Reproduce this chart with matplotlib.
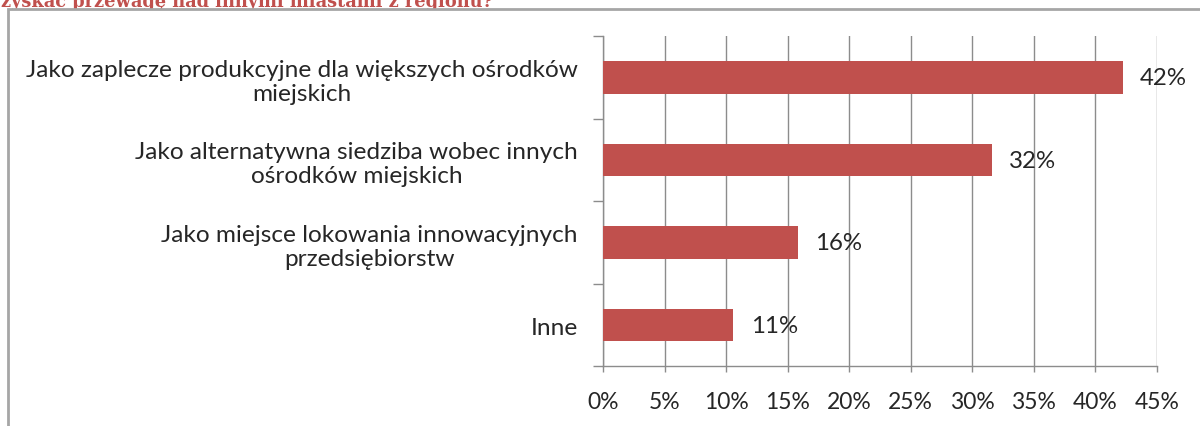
import matplotlib
matplotlib.use("Agg")
import matplotlib.pyplot as plt
from matplotlib.patches import Rectangle
from matplotlib.ticker import PercentFormatter, MultipleLocator

# Survey answers (bottom to top as drawn)
categories = [
    "Inne",
    "Jako miejsce lokowania innowacyjnych\nprzedsiębiorstw",
    "Jako alternatywna siedziba wobec innych\nośrodków miejskich",
    "Jako zaplecze produkcyjne dla większych ośrodków\nmiejskich",
]
shares = [0.106, 0.158, 0.316, 0.422]
title_tail = "zyskać przewagę nad innymi miastami z regionu?"

BAR = "#c0504d"
GRID = "#8c8c8c"
TEXT = "#262626"

plt.rcParams["font.family"] = ["Lato", "DejaVu Sans"]

fig = plt.figure(figsize=(12, 4.27), dpi=100)
W, H = 1200, 427

# question text running above the chart frame
fig.text(1 / W, 1 - 7 / H, title_tail, color=BAR, fontsize=12.8, fontweight="bold",
         family=["DejaVu Serif"], ha="left", va="baseline", zorder=-2)

# chart frame (white box partly covering the question's descenders)
fig.patches.append(Rectangle((8 / W, -0.2), 1.5, 0.2 + 1 - 10 / H, transform=fig.transFigure,
                             facecolor="white", edgecolor="#a6a6a6", linewidth=2, zorder=-1))

ax = fig.add_axes([603 / W, (H - 367.3) / H, (1157 - 603) / W, (367.3 - 37.3) / H])
ax.set_facecolor("none")
y = range(len(categories))
bars = ax.barh(y, shares, height=0.39, color=BAR, zorder=3)

for b, v in zip(bars, shares):
    ax.annotate(f"{v:.0%}", (v, b.get_y() + b.get_height() / 2), xytext=(12.5, 0),
                textcoords="offset points", ha="left", va="center", fontsize=17.3, color=TEXT)

ax.set_xlim(0, 0.45)
ax.set_ylim(-0.5, len(categories) - 0.5)
ax.xaxis.set_major_locator(MultipleLocator(0.05))
ax.xaxis.set_major_formatter(PercentFormatter(1.0, decimals=0))
ax.set_yticks([i - 0.5 for i in range(len(categories) + 1)], minor=False)
ax.set_yticklabels([])
ax.set_yticks(list(y), minor=True)
ax.set_yticklabels(categories, minor=True, fontsize=17.6, color=TEXT,
                   multialignment="center", linespacing=1.2)
ax.tick_params(axis="y", which="minor", length=0, pad=18)
ax.tick_params(axis="y", which="major", length=7, color=GRID, width=1)
ax.tick_params(axis="x", length=4.5, color=GRID, width=1, labelsize=16.5, labelcolor=TEXT, pad=13)

ax.grid(axis="x", color=GRID, linewidth=1, zorder=0)
for side in ("top", "right"):
    ax.spines[side].set_visible(False)
for side in ("left", "bottom"):
    ax.spines[side].set_color(GRID)
    ax.spines[side].set_linewidth(1)

fig.savefig("out.png", dpi=100)
